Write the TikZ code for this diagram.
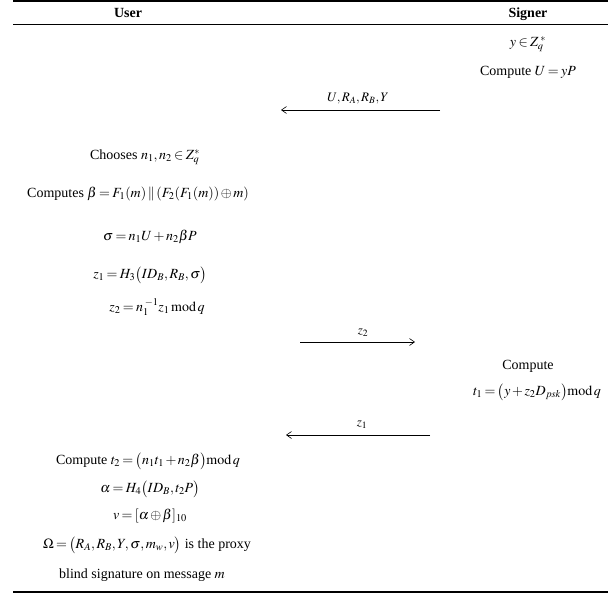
\documentclass[tikz,border=0pt]{standalone}
\usepackage{mathptmx}
\usepackage{fontspec}
\setmainfont{Liberation Serif}
\usetikzlibrary{arrows.meta}
\newcommand{\tightmath}{\thickmuskip=3mu plus 1mu\medmuskip=2mu plus 1mu\thinmuskip=2mu}
\newcommand{\mymod}{\,\mathrm{mod}\,}
\begin{document}
\begin{tikzpicture}[x=1pt,y=-1pt,
  txt/.style={inner sep=0pt, anchor=center, font=\fontsize{14}{16}\selectfont\tightmath},
  head/.style={txt, font=\fontsize{14}{16}\selectfont\bfseries},
  msg/.style={-{Straight Barb[length=5pt,width=7pt]}, line width=0.6pt},
  lbl/.style={txt, font=\fontsize{13}{15}\selectfont\tightmath}]
\useasboundingbox (0,0) rectangle (608,597);
% rules
\coordinate (tl) at (13,1);   \coordinate (tr) at (608,1);
\coordinate (hl) at (13,24);  \coordinate (hr) at (608,24);
\coordinate (bl) at (13,592); \coordinate (br) at (608,592);
\draw[line width=1.8pt] (tl) -- (tr);
\draw[line width=0.8pt] (hl) -- (hr);
\draw[line width=1.8pt] (bl) -- (br);
% headers
\node[head] (user) at (128,13) {User};
\node[head] (signer) at (528,14) {Signer};
% signer step 1
\node[txt] (ymem) at (528,44) {$y\in Z_q^{\;*}$};
\node[txt] (compU) at (528,72) {Compute $U=yP$};
% message 1
\coordinate (m1s) at (440,110); \coordinate (m1e) at (281,110);
\draw[msg] (m1s) -- (m1e);
\node[lbl] (m1l) at (358,99) {$U,R_A,R_B,Y$};
% user step
\node[txt] (choose) at (145,157) {Chooses $n_1,n_2\in Z_q^*$};
\node[txt, anchor=west] (beta) at (27,194) {Computes $\beta=F_1(m)\,\|\,(F_2(F_1(m))\oplus m)$};
\node[txt] (sigma) at (150,237) {$\sigma=n_1U+n_2\beta P$};
\node[txt] (z1) at (150,275) {$z_1=H_3\bigl(ID_B,R_B,\sigma\bigr)$};
\node[txt] (z2) at (157,307) {$z_2=n_1^{\;-1}z_1\mymod q$};
% message 2
\coordinate (m2s) at (300,342); \coordinate (m2e) at (415,342);
\draw[msg] (m2s) -- (m2e);
\node[lbl] (m2l) at (363,333) {$z_2$};
% signer step 2
\node[txt] (comp) at (528,366) {Compute};
\node[txt] (t1) at (537,392) {$t_1=\bigl(y+z_2D_{psk}\bigr)\mathrm{mod}\,q$};
% message 3
\coordinate (m3s) at (430,435); \coordinate (m3e) at (286,435);
\draw[msg] (m3s) -- (m3e);
\node[lbl] (m3l) at (362,425) {$z_1$};
% user final
\node[txt] (t2) at (148,461) {Compute $t_2=\bigl(n_1t_1+n_2\beta\bigr)\mathrm{mod}\,q$};
\node[txt] (alpha) at (150,489) {$\alpha=H_4\bigl(ID_B,t_2P\bigr)$};
\node[txt] (v) at (150,516) {$v=[\alpha\oplus\beta]_{10}$};
\node[txt] (omega) at (147,545) {$\Omega=\bigl(R_A,R_B,Y,\sigma,m_w,v\bigr)$ is the proxy};
\node[txt] (blind) at (142,575) {blind signature on message $m$};
\end{tikzpicture}
\end{document}
